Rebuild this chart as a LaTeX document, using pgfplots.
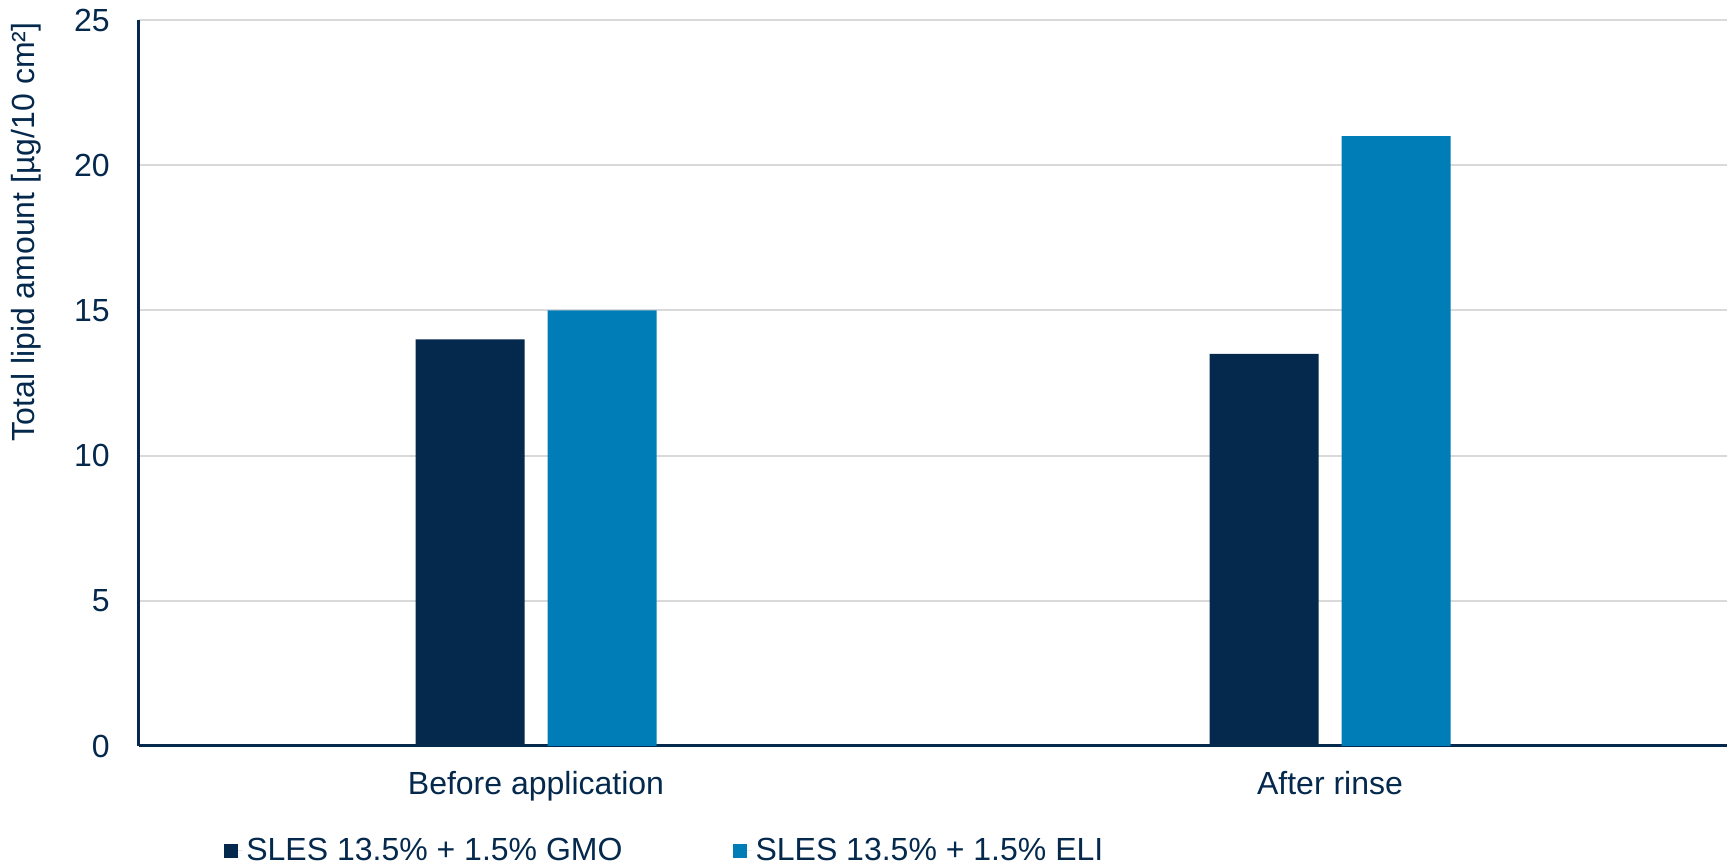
\documentclass[border=0pt]{standalone}
\usepackage{fontspec}
\setmainfont{Liberation Sans}
\usepackage{pgfplots}
\pgfplotsset{compat=1.18}
\definecolor{navy}{RGB}{5,41,77}
\definecolor{lightb}{RGB}{0,125,183}
\definecolor{gridc}{RGB}{217,217,217}
\begin{document}
\begin{tikzpicture}
\useasboundingbox (-69.5pt,-60pt) rectangle (797pt,373pt);
\begin{axis}[
  at={(0,0)}, anchor=south west,
  scale only axis,
  width=794pt, height=363pt,
  xmin=-0.5, xmax=1.5,
  ymin=0, ymax=25,
  ytick={0,5,10,15,20,25},
  xtick={0,1},
  xticklabels={Before application, After rinse},
  major tick length=0pt,
  axis lines*=left,
  axis line style={line width=1.5pt, color=navy, -},
  ymajorgrids,
  grid style={line width=1pt, color=gridc},
  ybar=11.5pt, bar width=54.5pt,
  font=\fontsize{16}{19}\selectfont,
  /pgf/number format/assume math mode=true,
  every tick label/.append style={text=navy},
  yticklabel style={inner sep=0pt, anchor=east, xshift=-14.5pt},
  xticklabel style={inner sep=0pt, anchor=north, yshift=-12.5pt},
  ylabel={Total lipid amount [µg/10 cm²]},
  ylabel style={at={(axis description cs:-0.0712,0.708)}, anchor=center, rotate=0, text=navy, inner sep=0pt},
  legend columns=2,
  legend style={draw=none, fill=none, at={(axis description cs:0.0535,-0.1446)}, anchor=west, inner sep=0pt, outer sep=0pt,
    font=\fontsize{16}{19}\selectfont, text=navy,
    /tikz/every even column/.append style={column sep=53.3pt}},
  legend image code/.code={\path[#1, draw=none] (0pt,-3.5pt) rectangle (7pt,3.5pt); \path (0pt,0pt) -- (9.2pt,0pt);},
]
\addplot[fill=navy, draw=none] coordinates {(0,14) (1,13.5)};
\addplot[fill=lightb, draw=none] coordinates {(0,15) (1,21)};
\legend{SLES 13.5\% + 1.5\% GMO, SLES 13.5\% + 1.5\% ELI}
\end{axis}
\end{tikzpicture}
\end{document}
